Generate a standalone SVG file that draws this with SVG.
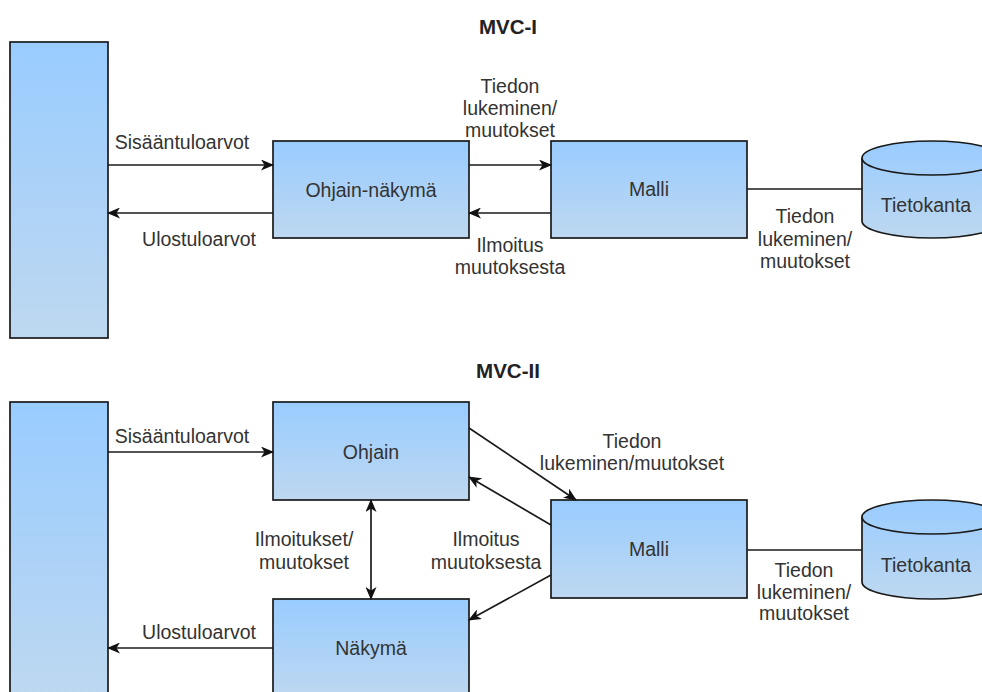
<svg xmlns="http://www.w3.org/2000/svg" width="982" height="692" viewBox="0 0 982 692">
  <defs>
    <linearGradient id="blue" x1="0" y1="0" x2="0" y2="1">
      <stop offset="0" stop-color="#99CCFF"/>
      <stop offset="1" stop-color="#BED8F0"/>
    </linearGradient>
    <marker id="arrow" viewBox="0 0 13 11" refX="12" refY="5.5" markerWidth="13" markerHeight="11" markerUnits="userSpaceOnUse" orient="auto-start-reverse">
      <path d="M0,0 L13,5.5 L0,11 L3.5,5.5 z" fill="#111"/>
    </marker>
    <style>
      .box{fill:url(#blue);stroke:#1a1a1a;stroke-width:1.7}
      .edge{fill:none;stroke:#1a1a1a;stroke-width:1.7}
      .txt{font-family:"Liberation Sans",Arial,sans-serif;font-size:19.5px;fill:#333;text-anchor:middle;dominant-baseline:central}
      .title{font-family:"Liberation Sans",Arial,sans-serif;font-size:20.5px;font-weight:bold;fill:#222;text-anchor:middle;dominant-baseline:central}
    </style>
  </defs>
  <rect width="982" height="692" fill="#fff"/>

  <!-- MVC-I -->
  <text class="title" x="508" y="26">MVC-I</text>
  <g id="user1"><rect class="box" x="10" y="42" width="98" height="296"/></g>
  <g id="ohjain-nakyma"><rect class="box" x="273" y="141" width="196" height="97"/><text class="txt" x="371" y="190">Ohjain-näkymä</text></g>
  <g id="malli1"><rect class="box" x="551" y="141" width="196" height="97"/><text class="txt" x="649" y="189">Malli</text></g>
  <g id="tietokanta1">
    <path class="box" d="M862,158 A70,17 0 0 1 1002,158 L1002,221 A70,17 0 0 1 862,221 Z"/>
    <path class="edge" d="M862,158 A70,17 0 0 0 1002,158"/>
    <text class="txt" x="926" y="205">Tietokanta</text>
  </g>
  <g id="edges1">
    <path class="edge" d="M108,165 H273" marker-end="url(#arrow)"/>
    <path class="edge" d="M273,213 H108" marker-end="url(#arrow)"/>
    <path class="edge" d="M469,165 H551" marker-end="url(#arrow)"/>
    <path class="edge" d="M551,213 H469" marker-end="url(#arrow)"/>
    <path class="edge" d="M747,189 H862"/>
    <text class="txt" x="182" y="142">Sisääntuloarvot</text>
    <text class="txt" x="199" y="239">Ulostuloarvot</text>
    <text class="txt" x="510" y="86">Tiedon</text>
    <text class="txt" x="510" y="108">lukeminen/</text>
    <text class="txt" x="510" y="130">muutokset</text>
    <text class="txt" x="510" y="245">Ilmoitus</text>
    <text class="txt" x="510" y="267">muutoksesta</text>
    <text class="txt" x="805" y="216">Tiedon</text>
    <text class="txt" x="805" y="239">lukeminen/</text>
    <text class="txt" x="805" y="261">muutokset</text>
  </g>

  <!-- MVC-II -->
  <text class="title" x="508" y="370">MVC-II</text>
  <g id="user2"><rect class="box" x="10" y="402" width="98" height="300"/></g>
  <g id="ohjain"><rect class="box" x="273" y="402" width="196" height="98"/><text class="txt" x="371" y="452">Ohjain</text></g>
  <g id="nakyma"><rect class="box" x="273" y="599" width="196" height="100"/><text class="txt" x="371" y="648">Näkymä</text></g>
  <g id="malli2"><rect class="box" x="551" y="500" width="196" height="98"/><text class="txt" x="649" y="549">Malli</text></g>
  <g id="tietokanta2">
    <path class="box" d="M862,517 A70,17 0 0 1 1002,517 L1002,582 A70,17 0 0 1 862,582 Z"/>
    <path class="edge" d="M862,517 A70,17 0 0 0 1002,517"/>
    <text class="txt" x="926" y="565">Tietokanta</text>
  </g>
  <g id="edges2">
    <path class="edge" d="M108,452 H273" marker-end="url(#arrow)"/>
    <path class="edge" d="M273,648 H108" marker-end="url(#arrow)"/>
    <path class="edge" d="M371,500 V599" marker-start="url(#arrow)" marker-end="url(#arrow)"/>
    <path class="edge" d="M469,428 L576,500" marker-end="url(#arrow)"/>
    <path class="edge" d="M551,525 L469,477" marker-end="url(#arrow)"/>
    <path class="edge" d="M551,575 L469,620" marker-end="url(#arrow)"/>
    <path class="edge" d="M747,550 H862"/>
    <text class="txt" x="182" y="436">Sisääntuloarvot</text>
    <text class="txt" x="199" y="632">Ulostuloarvot</text>
    <text class="txt" x="304" y="539">Ilmoitukset/</text>
    <text class="txt" x="304" y="562">muutokset</text>
    <text class="txt" x="486" y="539">Ilmoitus</text>
    <text class="txt" x="486" y="562">muutoksesta</text>
    <text class="txt" x="632" y="441">Tiedon</text>
    <text class="txt" x="632" y="463">lukeminen/muutokset</text>
    <text class="txt" x="804" y="570">Tiedon</text>
    <text class="txt" x="804" y="592">lukeminen/</text>
    <text class="txt" x="804" y="613">muutokset</text>
  </g>
</svg>
